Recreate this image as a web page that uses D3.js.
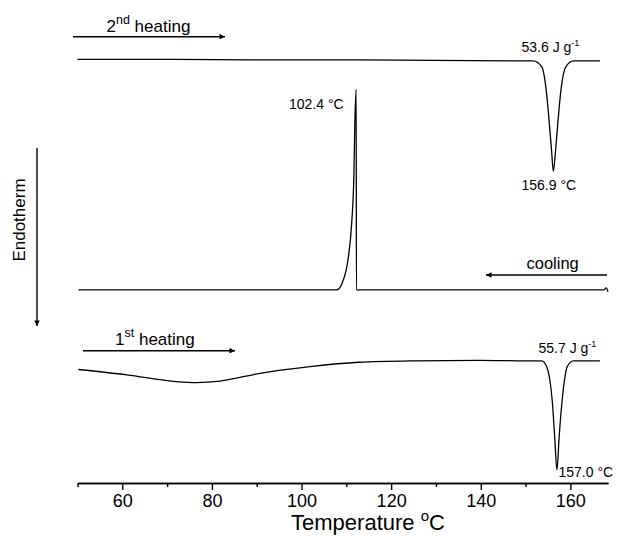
<!DOCTYPE html>
<html>
<head>
<meta charset="utf-8">
<script src="https://cdn.jsdelivr.net/npm/d3@7/dist/d3.min.js"></script>
<style>
  html, body { margin: 0; padding: 0; background: #fff; }
  svg { display: block; font-family: "Liberation Sans", Arial, sans-serif; }
</style>
</head>
<body>
<svg id="chart" width="618" height="536"></svg>
<script>
// ---- data (temperature in °C, heat flow in arbitrary stacked units) ----
const heat2T = [50, 70, 90, 110, 130, 150, 151.7, 153.6, 154.6, 155.3, 155.8, 156.2, 156.7, 157.2, 157.9, 159.0, 160.7, 163, 166.6];
const heat2V = [87.7, 87.7, 87.6, 87.6, 87.5, 87.4, 87.4, 86.2, 81.4, 74.5, 68.9, 64.5, 68.9, 74.5, 81.4, 86.2, 87.4, 87.4, 87.4];

const coolT = [50.2, 70, 90, 105, 107.9, 108.6, 109.2, 110.4, 111.2, 111.7, 111.9, 112.2, 112.25, 120, 140, 160, 167.5, 168.0, 168.4];
const coolV = [40.0, 40.0, 40.0, 40.0, 40.0, 40.5, 41.7, 46.4, 53.9, 64.2, 74.5, 81.5, 40.0, 40.0, 40.0, 40.0, 40.0, 40.4, 39.6];

const heat1T = [50.2, 61.0, 72.1, 76.6, 81.8, 90.7, 101.9, 112.7, 125, 140, 150, 153.6, 154.7, 155.3, 156.0, 156.5, 157.0, 157.5, 158.1, 158.8, 159.3, 160.7, 163, 166.6];
const heat1V = [23.5, 22.4, 21.0, 20.8, 21.1, 22.7, 24.1, 25.0, 25.3, 25.4, 25.3, 25.3, 24.1, 22.0, 16.5, 9.6, 2.7, 9.6, 16.5, 22.0, 24.1, 25.3, 25.3, 25.3];

const majorTicks = [60, 80, 100, 120, 140, 160];
const minorTicks = [50, 70, 90, 110, 130, 150];

// ---- scales ----
const svg = d3.select("#chart");
const x = d3.scaleLinear().domain([50, 168.4]).range([77.5, 608]);
const y = d3.scaleLinear().domain([0, 100]).range([483, 0]);

const line = d3.line()
  .x(d => x(d[0]))
  .y(d => y(d[1]))
  .curve(d3.curveMonotoneX);

function pairs(T, V) { return T.map((t, i) => [t, V[i]]); }

[[heat2T, heat2V], [coolT, coolV], [heat1T, heat1V]].forEach(([T, V]) => {
  svg.append("path")
    .datum(pairs(T, V))
    .attr("d", line)
    .attr("fill", "none")
    .attr("stroke", "#000")
    .attr("stroke-width", 1.3);
});

// ---- axis ----
const axisY = y(0);
const gMajor = svg.append("g").attr("transform", `translate(0,${axisY})`)
  .call(d3.axisBottom(x).tickValues(majorTicks).tickSize(7).tickSizeOuter(0).tickPadding(4).tickFormat(d3.format("d")));
const gMinor = svg.append("g").attr("transform", `translate(0,${axisY})`)
  .call(d3.axisBottom(x).tickValues(minorTicks).tickSize(4).tickSizeOuter(0).tickFormat(""));
[gMajor, gMinor].forEach(g => {
  g.selectAll("path.domain").attr("stroke", "#000").attr("stroke-width", 1.6);
  g.selectAll(".tick line").attr("stroke", "#000").attr("stroke-width", 1.4);
});
gMajor.selectAll(".tick text")
  .attr("font-family", "Liberation Sans, Arial, sans-serif")
  .attr("font-size", 18).attr("fill", "#000");

const title = svg.append("text")
  .attr("x", 368).attr("y", 530)
  .attr("text-anchor", "middle")
  .attr("font-size", 22);
title.append("tspan").text("Temperature ");
title.append("tspan").attr("font-size", 15).attr("dy", -9).text("o");
title.append("tspan").attr("dy", 9).text("C");

// ---- arrows ----
const defs = svg.append("defs");
defs.append("marker")
  .attr("id", "ah").attr("viewBox", "0 0 10 10")
  .attr("refX", 10).attr("refY", 5)
  .attr("markerWidth", 9).attr("markerHeight", 5.5).attr("markerUnits", "userSpaceOnUse")
  .attr("orient", "auto")
  .append("path").attr("d", "M0,0 L10,5 L0,10 Z").attr("fill", "#000");

function arrow(x1, y1, x2, y2) {
  svg.append("line")
    .attr("x1", x1).attr("y1", y1).attr("x2", x2).attr("y2", y2)
    .attr("stroke", "#000").attr("stroke-width", 1.4)
    .attr("marker-end", "url(#ah)");
}
arrow(73, 36.7, 225, 36.7);   // 2nd heating
arrow(607, 275, 486, 275);    // cooling
arrow(83, 350.7, 235, 350.7); // 1st heating
arrow(37, 148, 37, 326);      // Endotherm

// ---- labels ----
function label(txt, lx, ly, size, anchor) {
  return svg.append("text").attr("x", lx).attr("y", ly)
    .attr("font-size", size).attr("text-anchor", anchor || "start").text(txt);
}
function heating(lx, ly, num, sup) {
  const t = svg.append("text").attr("x", lx).attr("y", ly).attr("font-size", 17);
  t.append("tspan").text(num);
  t.append("tspan").attr("font-size", 12.5).attr("dy", -8).text(sup);
  t.append("tspan").attr("dy", 8).text(" heating");
}
heating(106.5, 31.7, "2", "nd");
heating(115, 345, "1", "st");
label("cooling", 526.5, 269, 16.5);

function enthalpy(lx, ly, val) {
  const t = svg.append("text").attr("x", lx).attr("y", ly).attr("font-size", 14);
  t.append("tspan").text(val + " J g");
  t.append("tspan").attr("font-size", 9).attr("dy", -6).text("-1");
}
enthalpy(521.5, 52, "53.6");
enthalpy(538.5, 353.3, "55.7");

label("156.9 °C", 521.5, 190, 14);
label("102.4 °C", 289, 109, 14);
label("157.0 °C", 558.5, 476.7, 14);

svg.append("text")
  .attr("transform", "translate(25,220) rotate(-90)")
  .attr("text-anchor", "middle")
  .attr("font-size", 17)
  .text("Endotherm");
</script>
</body>
</html>
